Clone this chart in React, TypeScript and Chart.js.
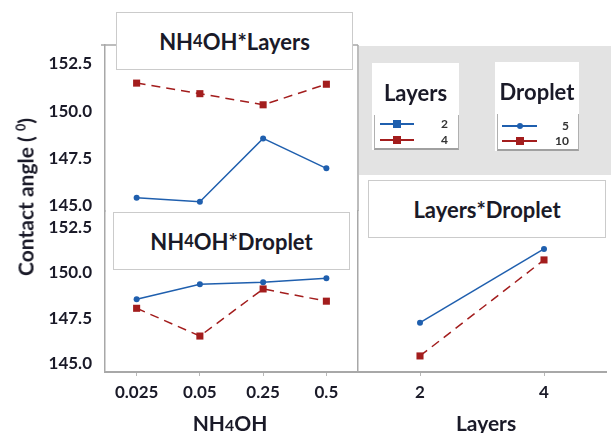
import React, { useEffect, useRef } from "react";
import { Chart, registerables } from "chart.js";

Chart.register(...registerables);

// ---- data ----
const NH4OH_LEVELS = ["0.025", "0.05", "0.25", "0.5"];
const LAYER_LEVELS = ["2", "4"];
const LAYERS2_BY_NH4OH = [145.4, 145.19, 148.55, 146.96];
const LAYERS4_BY_NH4OH = [151.48, 150.92, 150.33, 151.42];
const DROPLET5_BY_NH4OH = [148.55, 149.37, 149.48, 149.7];
const DROPLET10_BY_NH4OH = [148.05, 146.53, 149.11, 148.44];
const DROPLET5_BY_LAYERS = [147.26, 151.3];
const DROPLET10_BY_LAYERS = [145.44, 150.7];
const Y_TICKS = [145.0, 147.5, 150.0, 152.5];

const BLUE = "#1f5fae";
const RED = "#a31d1d";
const TEXT = "#1a1a28";
const AXIS = "#a8a8a8";
const FONT = "Lato, 'Open Sans', sans-serif";

const W = 611;
const H = 433;
const YW = 60;
const XH = 40;

type Area = { l: number; t: number; r: number; b: number };

function blueSet(data: number[]) {
  return {
    data,
    borderColor: BLUE,
    backgroundColor: BLUE,
    borderWidth: 1.5,
    pointStyle: "circle",
    pointRadius: 3,
    pointBorderWidth: 0,
    tension: 0,
  };
}
function redSet(data: number[]) {
  return {
    data,
    borderColor: RED,
    backgroundColor: RED,
    borderWidth: 1.5,
    borderDash: [9, 6],
    pointStyle: "rect",
    pointRadius: 5,
    pointBorderWidth: 0,
    tension: 0,
  };
}

type PanelProps = {
  labels: string[];
  datasets: any[];
  area: Area;
  yMin: number;
  yMax: number;
  showYLabels: boolean;
  showX: boolean;
  frame?: boolean;
};

function Panel({ labels, datasets, area, yMin, yMax, showYLabels, showX, frame }: PanelProps) {
  const ref = useRef<HTMLCanvasElement>(null);
  useEffect(() => {
    const framePlugin = {
      id: "frame",
      afterDraw(chart: any) {
        if (!frame) return;
        const ctx = chart.ctx;
        const ca = chart.chartArea;
        ctx.save();
        ctx.strokeStyle = AXIS;
        ctx.lineWidth = 1.5;
        ctx.beginPath();
        ctx.moveTo(ca.left - 4, ca.top);
        ctx.lineTo(ca.right, ca.top);
        ctx.moveTo(ca.right, ca.top);
        ctx.lineTo(ca.right, ca.bottom);
        ctx.stroke();
        ctx.restore();
      },
    };
    const chart = new Chart(ref.current!, {
      type: "line",
      data: { labels, datasets },
      plugins: [framePlugin],
      options: {
        responsive: false,
        animation: false,
        devicePixelRatio: 1,
        events: [],
        layout: {
          padding: {
            left: area.l - YW,
            top: area.t,
            right: W - area.r,
            bottom: showX ? H - area.b - XH : H - area.b,
          },
        },
        plugins: { legend: { display: false }, tooltip: { enabled: false } },
        scales: {
          x: {
            type: "category",
            offset: true,
            display: showX,
            grid: {
              display: true,
              drawOnChartArea: false,
              drawTicks: true,
              tickLength: 4,
              color: "#b8b8b8",
            },
            border: { display: true, color: AXIS, width: 2 },
            ticks: {
              padding: 6,
              color: TEXT,
              font: { family: FONT, weight: "bold", size: 17 },
              maxRotation: 0,
              autoSkip: false,
            },
            afterFit: (s: any) => {
              s.height = showX ? XH : 0;
            },
          },
          y: {
            type: "linear",
            min: yMin,
            max: yMax,
            grid: { display: false },
            border: { display: true, color: AXIS, width: 1.5 },
            ticks: {
              display: showYLabels,
              padding: 5,
              color: TEXT,
              font: { family: FONT, weight: "bold", size: 17 },
              callback: (v: any) => Number(v).toFixed(1),
            },
            afterBuildTicks: (s: any) => {
              s.ticks = Y_TICKS.map((value) => ({ value }));
            },
            afterFit: (s: any) => {
              s.width = YW;
            },
          },
        },
      } as any,
    });
    return () => chart.destroy();
  }, []);
  return (
    <canvas
      ref={ref}
      width={W}
      height={H}
      style={{ position: "absolute", left: 0, top: 0, width: W, height: H }}
    />
  );
}

function Nh4oh() {
  return (
    <>
      NH<span style={{ fontSize: "0.75em" }}>4</span>OH
    </>
  );
}

function TitleBox({ left, top, width, height, children }: any) {
  return (
    <div
      style={{
        position: "absolute",
        left,
        top,
        width,
        height,
        boxSizing: "border-box",
        border: "1.5px solid #cbcbcb",
        background: "#fff",
        display: "flex",
        alignItems: "center",
        justifyContent: "center",
        fontFamily: FONT,
        fontWeight: 700,
        fontSize: 22,
        color: TEXT,
        whiteSpace: "nowrap",
      }}
    >
      {children}
    </div>
  );
}

function LegendRow({ x1, x2, y, color, shape, label, labelRight }: any) {
  const mid = (x1 + x2) / 2;
  const size = shape === "rect" ? 8 : 6;
  return (
    <>
      <div
        style={{
          position: "absolute",
          left: x1,
          top: y - 0.75,
          width: x2 - x1,
          height: 1.5,
          background: color,
        }}
      />
      <div
        style={{
          position: "absolute",
          left: mid - size / 2,
          top: y - size / 2,
          width: size,
          height: size,
          background: color,
          borderRadius: shape === "circle" ? "50%" : 0,
        }}
      />
      <div
        style={{
          position: "absolute",
          right: W - labelRight,
          top: y - 8,
          height: 16,
          lineHeight: "16px",
          fontFamily: FONT,
          fontWeight: 700,
          fontSize: 12,
          color: "#333",
        }}
      >
        {label}
      </div>
    </>
  );
}

function LegendBox({ left, top, width, height, title, titleY, rows }: any) {
  return (
    <>
      <div
        style={{
          position: "absolute",
          left,
          top,
          width,
          height,
          background: "#fff",
        }}
      />
      <div
        style={{
          position: "absolute",
          left: left + 2,
          top: top + 52,
          width: width - 4,
          height: height - 54,
          borderLeft: "1px solid #b0b0b0",
          borderRight: "1px solid #b0b0b0",
          borderBottom: "2px solid #a0a0a0",
        }}
      />
      <div
        style={{
          position: "absolute",
          left,
          width,
          top: titleY - 14,
          height: 28,
          lineHeight: "28px",
          textAlign: "center",
          fontFamily: FONT,
          fontWeight: 700,
          fontSize: 22,
          color: TEXT,
          whiteSpace: "nowrap",
        }}
      >
        {title}
      </div>
      {rows}
    </>
  );
}

export default function App() {
  return (
    <div
      style={{
        position: "absolute",
        left: 0,
        top: 0,
        width: W,
        height: H,
        background: "#fff",
        overflow: "hidden",
      }}
    >
      {/* gray area of the empty top-right panel */}
      <div
        style={{
          position: "absolute",
          left: 359,
          top: 46,
          width: 252,
          height: 129,
          background: "#e3e3e3",
        }}
      />
      <Panel
        labels={NH4OH_LEVELS}
        datasets={[blueSet(LAYERS2_BY_NH4OH), redSet(LAYERS4_BY_NH4OH)]}
        area={{ l: 105, t: 45, r: 358, b: 211 }}
        yMin={144.7}
        yMax={153.5}
        showYLabels={true}
        showX={false}
        frame={true}
      />
      <Panel
        labels={NH4OH_LEVELS}
        datasets={[blueSet(DROPLET5_BY_NH4OH), redSet(DROPLET10_BY_NH4OH)]}
        area={{ l: 105, t: 211, r: 358, b: 372 }}
        yMin={144.56}
        yMax={153.38}
        showYLabels={true}
        showX={true}
      />
      <Panel
        labels={LAYER_LEVELS}
        datasets={[blueSet(DROPLET5_BY_LAYERS), redSet(DROPLET10_BY_LAYERS)]}
        area={{ l: 358, t: 211, r: 610, b: 372 }}
        yMin={144.56}
        yMax={153.38}
        showYLabels={false}
        showX={true}
      />

      <TitleBox left={116} top={12} width={237} height={58}>
        <Nh4oh />*Layers
      </TitleBox>
      <TitleBox left={113} top={212} width={237} height={58}>
        <Nh4oh />*Droplet
      </TitleBox>
      <TitleBox left={368} top={180} width={238} height={58}>
        Layers*Droplet
      </TitleBox>

      <LegendBox
        left={372}
        top={63}
        width={87}
        height={87}
        title="Layers"
        titleY={93}
        rows={
          <>
            <LegendRow x1={380} x2={414} y={124} color={BLUE} shape="rect" label="2" labelRight={448} />
            <LegendRow x1={380} x2={414} y={140} color={RED} shape="rect" label="4" labelRight={448} />
          </>
        }
      />
      <LegendBox
        left={495}
        top={62}
        width={84}
        height={89}
        title="Droplet"
        titleY={92}
        rows={
          <>
            <LegendRow x1={502} x2={537} y={126} color={BLUE} shape="circle" label="5" labelRight={569} />
            <LegendRow x1={502} x2={537} y={141} color={RED} shape="rect" label="10" labelRight={569} />
          </>
        }
      />

      {/* axis titles */}
      <div
        style={{
          position: "absolute",
          left: 25,
          top: 197,
          transform: "translate(-50%, -50%) rotate(-90deg)",
          whiteSpace: "nowrap",
          fontFamily: FONT,
          fontWeight: 700,
          fontSize: 21,
          color: TEXT,
        }}
      >
        Contact angle ( <sup style={{ fontSize: "0.6em" }}>0</sup>)
      </div>
      <div
        style={{
          position: "absolute",
          left: 230,
          top: 422,
          transform: "translate(-50%, -50%)",
          whiteSpace: "nowrap",
          fontFamily: FONT,
          fontWeight: 700,
          fontSize: 21,
          color: TEXT,
        }}
      >
        <Nh4oh />
      </div>
      <div
        style={{
          position: "absolute",
          left: 486,
          top: 422,
          transform: "translate(-50%, -50%)",
          whiteSpace: "nowrap",
          fontFamily: FONT,
          fontWeight: 700,
          fontSize: 21,
          color: TEXT,
        }}
      >
        Layers
      </div>
    </div>
  );
}
